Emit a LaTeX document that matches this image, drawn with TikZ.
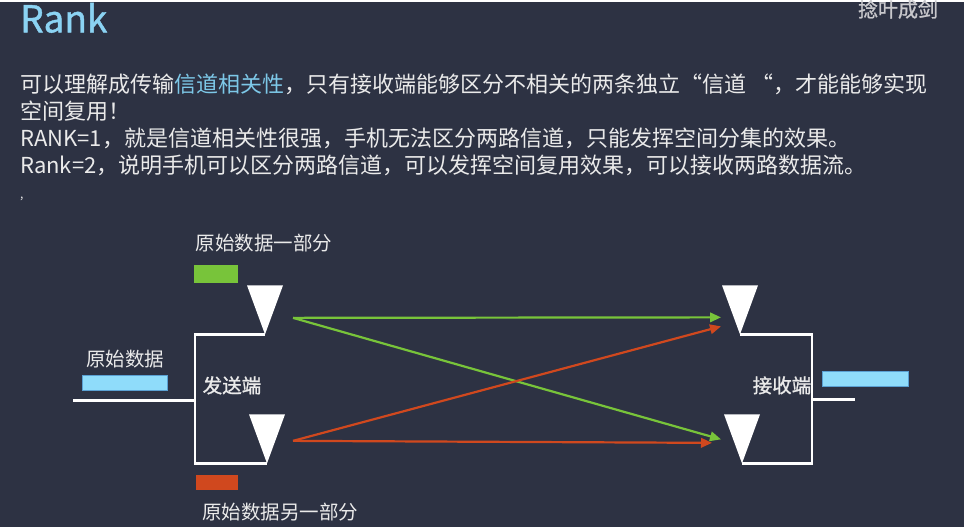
\documentclass[tikz,border=0pt]{standalone}
\usepackage{fontspec}
\setmainfont{Noto Sans CJK SC}
\newfontfamily\heavy{Noto Sans CJK SC}[FakeBold=1.2]
\usepackage{xcolor}
\usetikzlibrary{arrows.meta}
\definecolor{slatebg}{RGB}{45, 50, 67}
\definecolor{titleblue}{RGB}{139, 211, 243}
\definecolor{hiblue}{RGB}{125, 200, 232}
\definecolor{datablue}{RGB}{143, 220, 250}
\definecolor{dataedge}{RGB}{90, 160, 210}
\definecolor{datagreen}{RGB}{120, 196, 58}
\definecolor{datared}{RGB}{208, 72, 30}
\definecolor{softwhite}{RGB}{234, 234, 234}
\definecolor{markgray}{RGB}{200, 200, 204}

\begin{document}
\begin{tikzpicture}[
    x=1pt, y=-1pt,
    bodytext/.style={text=softwhite, inner sep=0pt, anchor=base west, font=\fontsize{22}{26}\selectfont},
    lbl/.style={text=softwhite, inner sep=0pt, font=\fontsize{19.5}{22}\selectfont},
    datablock/.style={minimum width=#1, minimum height=15pt, inner sep=0pt},
    wire/.style={draw=white, line width=2.4pt},
    antenna/.style={fill=white},
    link/.style={-{Triangle[length=11pt, width=9.5pt]}, line width=2.2pt}
]
    \fill[slatebg] (0,0) rectangle (964,525);

    % title and text
    \node[text=titleblue, inner sep=0pt, anchor=west, font=\heavy\fontsize{37}{40}\selectfont] (title) at (20,15.5) {Rank};
    \node[text=markgray, inner sep=0pt, font=\heavy\fontsize{20}{22}\selectfont] (mark) at (898,7) {捻叶成剑};
    \node[bodytext] (line1) at (20,90) {可以理解成传输\textcolor{hiblue}{信道相关性}，只有接收端能够区分不相关的两条独立“信道 “，才能能够实现};
    \node[bodytext] (line2) at (20,117) {空间复用！};
    \node[bodytext] (line3) at (20,144) {RANK=1，就是信道相关性很强，手机无法区分两路信道，只能发挥空间分集的效果。};
    \node[bodytext] (line4) at (20,171) {Rank=2，说明手机可以区分两路信道，可以发挥空间复用效果，可以接收两路数据流。};
    \node[bodytext, font=\fontsize{12}{14}\selectfont] (tick) at (20,196) {,};

    % sender side
    \node[lbl] (partA) at (264,241) {原始数据一部分};
    \node[datablock=44pt, minimum height=18pt, fill=datagreen] (greenblk) at (216,272) {};
    \node[lbl] (rawlbl) at (125,357) {原始数据};
    \node[datablock=85pt, fill=datablue, draw=dataedge, line width=0.8pt] (rawblk) at (124.5,380.5) {};
    \node[lbl, font=\heavy\fontsize{19.5}{22}\selectfont] (tx) at (232,383) {发送端};
    \node[datablock=42pt, fill=datared] (redblk) at (217,480.5) {};
    \node[lbl] (partB) at (280,510) {原始数据另一部分};

    \coordinate (txa) at (265,332);
    \coordinate (txb) at (267,461);
    \coordinate (txin) at (73,398);
    \coordinate (txjoin) at (195,398);
    \fill[antenna] (txa) -- ++(-18,-49) -- ++(36,0) -- cycle;
    \fill[antenna] (txb) -- ++(-18,-49) -- ++(36,0) -- cycle;
    \draw[wire] (txin) -- (txjoin);
    \draw[wire] (txa) -| (txjoin) |- (txb);

    % receiver side
    \node[lbl, font=\heavy\fontsize{19.5}{22}\selectfont] (rx) at (782,383) {接收端};
    \node[datablock=86pt, fill=datablue, draw=dataedge, line width=0.8pt] (outblk) at (865,376.5) {};

    \coordinate (rxa) at (740,332);
    \coordinate (rxb) at (742,461);
    \coordinate (rxjoin) at (812,397);
    \coordinate (rxout) at (855,397);
    \fill[antenna] (rxa) -- ++(-18,-49) -- ++(36,0) -- cycle;
    \fill[antenna] (rxb) -- ++(-18,-49) -- ++(36,0) -- cycle;
    \draw[wire] (rxa) -| (rxjoin) |- (rxb);
    \draw[wire] (rxjoin) -- (rxout);

    % channels
    \coordinate (gsrc) at (293,315.5);
    \coordinate (rsrc) at (293,438.5);
    \coordinate (rxag) at (721,315);
    \coordinate (rxar) at (721,324);
    \coordinate (rxbg) at (721,437);
    \coordinate (rxbr) at (712,440.5);
    \draw[link, datagreen] (gsrc) -- (rxag);
    \draw[link, datagreen] (gsrc) -- (rxbg);
    \draw[link, datared] (rsrc) -- (rxar);
    \draw[link, datared] (rsrc) -- (rxbr);
\end{tikzpicture}
\end{document}
